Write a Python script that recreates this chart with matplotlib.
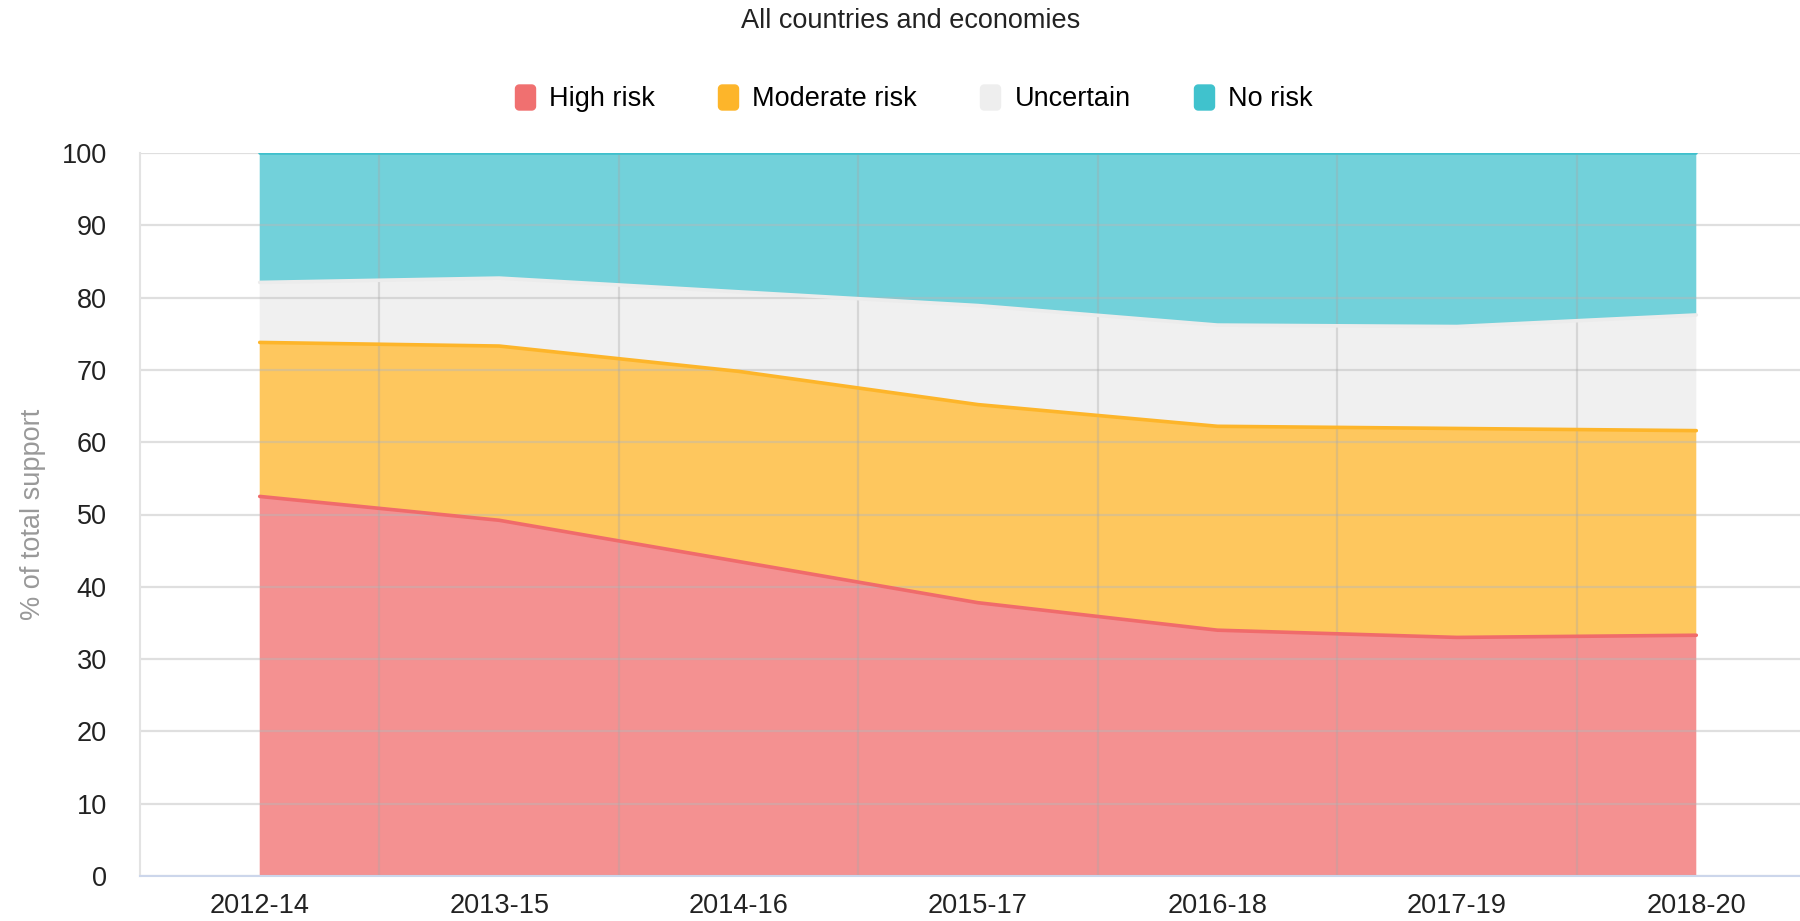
import numpy as np
import matplotlib.pyplot as plt
from matplotlib.lines import Line2D
from matplotlib.path import Path

plt.rcParams["font.family"] = ["Liberation Sans", "DejaVu Sans"]

# data, % of total support
periods = ["2012-14", "2013-15", "2014-16", "2015-17", "2016-18", "2017-19", "2018-20"]
high_risk = [52.5, 49.2, 43.5, 37.8, 34.0, 33.0, 33.3]
moderate_risk = [21.3, 24.1, 26.3, 27.4, 28.2, 28.9, 28.3]
uncertain = [8.3, 9.4, 11.0, 13.7, 14.0, 14.1, 16.0]
no_risk = [17.9, 17.3, 19.2, 21.1, 23.8, 24.0, 22.4]

names = ["High risk", "Moderate risk", "Uncertain", "No risk"]
fill_colors = ["#f49191", "#fec75e", "#f0f0f0", "#72d1da"]
line_colors = ["#f06b6b", "#fdb52a", "#ececec", "#3fc0cc"]
legend_colors = ["#f07070", "#fdb52a", "#eeeeee", "#40c2cd"]

x = np.arange(len(periods))
series = np.array([high_risk, moderate_risk, uncertain, no_risk])
tops = np.cumsum(series, axis=0)

fig = plt.figure(figsize=(18, 9.21), dpi=100)
ax = fig.add_axes([140 / 1800, 1 - 876 / 921, 1676 / 1800, (876 - 153) / 921])

ax.stackplot(x, series, colors=fill_colors, linewidth=0, zorder=1)
for i in range(4):
    ax.plot(x, tops[i], color=line_colors[i], lw=2.6, zorder=3,
            solid_capstyle="round")

# grid lines drawn over the areas
for v in range(0, 101, 10):
    ax.axhline(v, color="#b8b8b8", alpha=0.45, lw=1.6, zorder=2)
for m in x[:-1] + 0.5:
    ax.axvline(m, color="#a8a8a8", alpha=0.35, lw=1.6, zorder=2)

ax.set_xlim(-0.5, 6.5)
ax.set_ylim(0, 100)
ax.set_xticks(x)
ax.set_xticklabels(periods)
ax.set_yticks(range(0, 101, 10))
ax.tick_params(axis="both", length=0, labelsize=19.5, colors="#222222")
ax.tick_params(axis="y", pad=24)
ax.tick_params(axis="x", pad=12)
ax.set_ylabel("% of total support", fontsize=19.5, color="#999999", labelpad=11)

for s in ["top", "right"]:
    ax.spines[s].set_visible(False)
ax.spines["left"].set_color("#e3e3e3")
ax.spines["left"].set_linewidth(1.5)
ax.spines["bottom"].set_color("#ccd6eb")
ax.spines["bottom"].set_linewidth(1.5)

fig.text(911 / 1800, 1 - 21 / 921, "All countries and economies",
         ha="center", va="center", fontsize=19.5, color="#222222")

# rounded-square legend symbol
w, h, r = 0.8, 1.0, 0.3
corners = [(w - r, h - r, 0), (-w + r, h - r, 90), (-w + r, -h + r, 180), (w - r, -h + r, 270)]
verts = []
for cx, cy, a0 in corners:
    t = np.radians(np.linspace(a0, a0 + 90, 8))
    verts += list(zip(cx + r * np.cos(t), cy + r * np.sin(t)))
verts.append(verts[0])
rounded = Path(verts, closed=True)

handles = [Line2D([], [], ls="none", marker=rounded, markersize=18,
                  markerfacecolor=c, markeredgecolor=c) for c in legend_colors]
fig.legend(handles, names, loc="center", bbox_to_anchor=(912 / 1800, 1 - 99 / 921),
           ncol=4, frameon=False, fontsize=19.5, handletextpad=0.4,
           columnspacing=2.2, handlelength=1.0)

fig.savefig("out.png", dpi=100)
